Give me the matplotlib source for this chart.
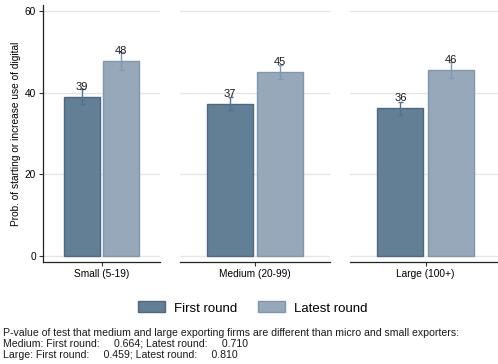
import matplotlib
matplotlib.use("Agg")
import matplotlib.pyplot as plt
from matplotlib.patches import Patch

plt.rcParams['font.family'] = ['Liberation Sans', 'DejaVu Sans']

groups = ["Small (5-19)", "Medium (20-99)", "Large (100+)"]
series = ["First round", "Latest round"]
first_vals = [38.9, 37.3, 36.2]
first_lo = [37.2, 35.8, 34.6]
first_hi = [40.9, 39.0, 37.8]
latest_vals = [47.7, 45.0, 45.6]
latest_lo = [45.5, 43.3, 43.6]
latest_hi = [49.9, 46.8, 47.5]
yticks = [0, 20, 40, 60]
ylabel = "Prob. of starting or increase use of digital"
note_lines = ["P-value of test that medium and large exporting firms are different than micro and small exporters:",
              "Medium: First round:     0.664; Latest round:     0.710",
              "Large: First round:     0.459; Latest round:     0.810"]

dark_fill = "#627f95"
dark_edge = "#4b6a82"
light_fill = "#96a8b9"
light_edge = "#7e97ac"
dark_err = "#4f7390"
light_err = "#7f9ab0"

W, H = 498, 364
fig = plt.figure(figsize=(W / 100, H / 100), dpi=100)

panels = [(43, 160), (180, 330), (350, 501)]
top_px, bot_px = 5, 262
axes = []
for i, (l, r) in enumerate(panels):
    ax = fig.add_axes([l / W, 1 - bot_px / H, (r - l) / W, (bot_px - top_px) / H])
    axes.append(ax)
    ax.set_xlim(0, 3)
    ax.set_ylim(-1.5, 61.5)
    ax.set_yticks(yticks)
    for y in yticks:
        ax.axhline(y, color="#e6e6e6", lw=1.0, zorder=0)
    vals = [first_vals[i], latest_vals[i]]
    los = [first_lo[i], latest_lo[i]]
    his = [first_hi[i], latest_hi[i]]
    fills = [dark_fill, light_fill]
    edges = [dark_edge, light_edge]
    errc = [dark_err, light_err]
    for j in range(2):
        x = j + 1
        ax.bar(x, vals[j], width=0.92, color=fills[j], edgecolor=edges[j], lw=1.0, zorder=2)
        ax.errorbar(x, vals[j], yerr=[[vals[j] - los[j]], [his[j] - vals[j]]], fmt="none",
                    ecolor=errc[j], elinewidth=1.0, capsize=1.8, capthick=1.0, zorder=3)
        ax.annotate(f"{round(vals[j]):d}", (x, vals[j]), xytext=(0, 7.2), textcoords="offset points",
                    ha="center", va="center", fontsize=8, color="#1a1a1a", zorder=4)
    ax.set_xticks([1.5])
    ax.set_xticklabels([groups[i]], fontsize=7.3)
    ax.tick_params(axis="x", length=3, width=0.8, color="#333333", pad=2)
    for s in ["top", "right"]:
        ax.spines[s].set_visible(False)
    ax.spines["bottom"].set_color("#222222")
    ax.spines["bottom"].set_linewidth(0.9)
    if i == 0:
        ax.spines["left"].set_color("#222222")
        ax.spines["left"].set_linewidth(0.9)
        ax.set_yticklabels([str(t) for t in yticks], fontsize=7.3)
        ax.tick_params(axis="y", length=3, width=0.8, color="#333333", pad=2)
        ax.set_ylabel(ylabel, fontsize=7.3, labelpad=3)
    else:
        ax.spines["left"].set_visible(False)
        ax.tick_params(axis="y", left=False, labelleft=False)

handles = [Patch(facecolor=dark_fill, edgecolor=dark_edge, lw=1.0),
           Patch(facecolor=light_fill, edgecolor=light_edge, lw=1.0)]
fig.legend(handles, series, loc="center", bbox_to_anchor=(253 / W, 1 - 308 / H), ncol=2,
           frameon=False, fontsize=9.5, handlelength=2.0, handleheight=0.9,
           handletextpad=0.7, columnspacing=1.6)

for k, (line, base) in enumerate(zip(note_lines, [336.5, 347.0, 357.5])):
    fig.text(3 / W, 1 - base / H, line, ha="left", va="baseline", fontsize=7.6, color="#1a1a1a")

fig.savefig("out.png", dpi=100)
